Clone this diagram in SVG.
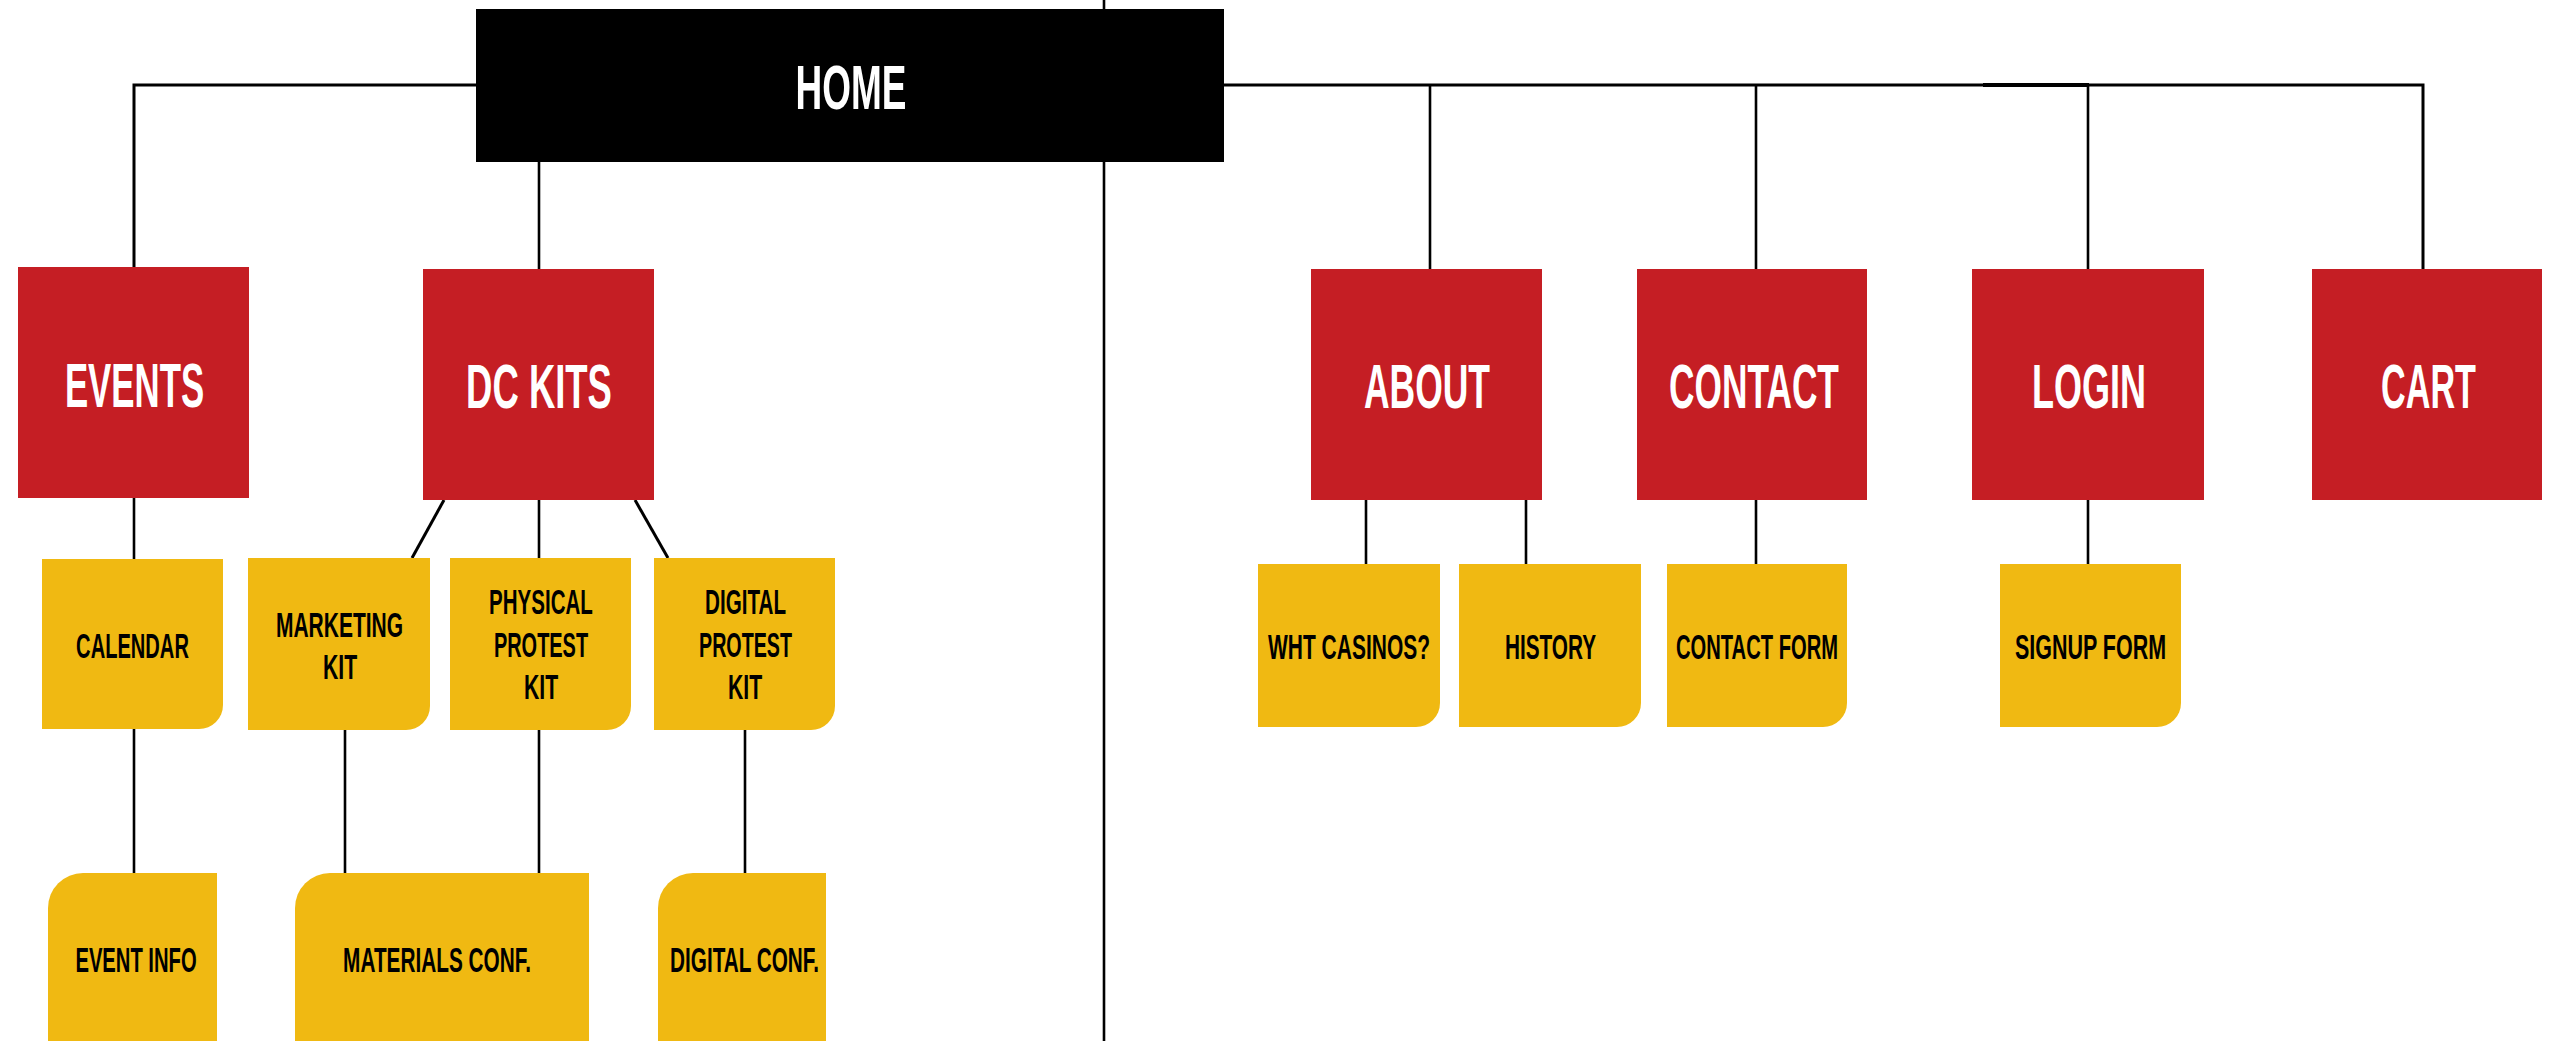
<svg xmlns="http://www.w3.org/2000/svg" width="2557" height="1041" viewBox="0 0 2557 1041">
<style>
.red{fill:#C51E24}
.yel{fill:#F0B912}
.blk{fill:#000}
.big{font-family:"Liberation Sans",Arial,sans-serif;font-weight:bold;font-size:63px;fill:#fff;text-anchor:middle}
.sm{font-family:"Liberation Sans",Arial,sans-serif;font-weight:bold;font-size:35px;fill:#000;text-anchor:middle}
.ln{stroke:#000;stroke-width:2.6;fill:none}
</style>
<rect width="2557" height="1041" fill="#fff"/>
<g id="connectors">
<line class="ln" x1="1104" y1="0" x2="1104" y2="1041"/>
<polyline class="ln" style="stroke-width:3" points="134,267 134,85 476,85"/>
<polyline class="ln" style="stroke-width:3" points="1224,85 2423,85 2423,269"/>
<line class="ln" x1="1983" y1="85" x2="2089" y2="85" style="stroke-width:4"/>
<line class="ln" x1="539" y1="162" x2="539" y2="269"/>
<line class="ln" x1="1430" y1="85" x2="1430" y2="269"/>
<line class="ln" x1="1756" y1="85" x2="1756" y2="269"/>
<line class="ln" x1="2088" y1="85" x2="2088" y2="269"/>
<line class="ln" x1="134" y1="498" x2="134" y2="559"/>
<line class="ln" style="stroke-width:3" x1="444" y1="500" x2="412" y2="558"/>
<line class="ln" x1="539" y1="500" x2="539" y2="558"/>
<line class="ln" style="stroke-width:3" x1="635" y1="500" x2="668" y2="558"/>
<line class="ln" x1="134" y1="729" x2="134" y2="873"/>
<line class="ln" x1="345" y1="730" x2="345" y2="873"/>
<line class="ln" x1="539" y1="730" x2="539" y2="873"/>
<line class="ln" x1="745" y1="730" x2="745" y2="873"/>
<line class="ln" x1="1366" y1="500" x2="1366" y2="564"/>
<line class="ln" x1="1526" y1="500" x2="1526" y2="564"/>
<line class="ln" x1="1756" y1="500" x2="1756" y2="564"/>
<line class="ln" x1="2088" y1="500" x2="2088" y2="564"/>
</g>
<g id="home"><rect class="blk" x="476" y="9" width="748" height="153"/><text class="big" transform="translate(851,109) scale(0.6,1)" textLength="185" lengthAdjust="spacingAndGlyphs">HOME</text></g>
<g id="events"><rect class="red" x="18" y="267" width="231" height="231"/><text class="big" transform="translate(134.5,407) scale(0.6,1)" textLength="232" lengthAdjust="spacingAndGlyphs">EVENTS</text></g>
<g id="dckits"><rect class="red" x="423" y="269" width="231" height="231"/><text class="big" transform="translate(539,408) scale(0.6,1)" textLength="243" lengthAdjust="spacingAndGlyphs">DC KITS</text></g>
<g id="about"><rect class="red" x="1311" y="269" width="231" height="231"/><text class="big" transform="translate(1427,408) scale(0.6,1)" textLength="210" lengthAdjust="spacingAndGlyphs">ABOUT</text></g>
<g id="contact"><rect class="red" x="1637" y="269" width="230" height="231"/><text class="big" transform="translate(1754,408) scale(0.6,1)" textLength="283" lengthAdjust="spacingAndGlyphs">CONTACT</text></g>
<g id="login"><rect class="red" x="1972" y="269" width="232" height="231"/><text class="big" transform="translate(2089,408) scale(0.6,1)" textLength="190" lengthAdjust="spacingAndGlyphs">LOGIN</text></g>
<g id="cart"><rect class="red" x="2312" y="269" width="230" height="231"/><text class="big" transform="translate(2428.5,408) scale(0.6,1)" textLength="158" lengthAdjust="spacingAndGlyphs">CART</text></g>
<g id="calendar"><path class="yel" d="M42 559H223V705A24 24 0 0 1 199 729H42Z"/><text class="sm" transform="translate(132.5,658) scale(0.6,1)" textLength="188" lengthAdjust="spacingAndGlyphs">CALENDAR</text></g>
<g id="marketing-kit"><path class="yel" d="M248 558H430V706A24 24 0 0 1 406 730H248Z"/><text class="sm" transform="translate(339.5,637) scale(0.6,1)" textLength="212" lengthAdjust="spacingAndGlyphs">MARKETING</text><text class="sm" transform="translate(340,679) scale(0.6,1)" textLength="57" lengthAdjust="spacingAndGlyphs">KIT</text></g>
<g id="physical-protest-kit"><path class="yel" d="M450 558H631V706A24 24 0 0 1 607 730H450Z"/><text class="sm" transform="translate(541,614) scale(0.6,1)" textLength="173" lengthAdjust="spacingAndGlyphs">PHYSICAL</text><text class="sm" transform="translate(541,657) scale(0.6,1)" textLength="157" lengthAdjust="spacingAndGlyphs">PROTEST</text><text class="sm" transform="translate(541,699) scale(0.6,1)" textLength="57" lengthAdjust="spacingAndGlyphs">KIT</text></g>
<g id="digital-protest-kit"><path class="yel" d="M654 558H835V706A24 24 0 0 1 811 730H654Z"/><text class="sm" transform="translate(745.5,614) scale(0.6,1)" textLength="135" lengthAdjust="spacingAndGlyphs">DIGITAL</text><text class="sm" transform="translate(745.5,657) scale(0.6,1)" textLength="155" lengthAdjust="spacingAndGlyphs">PROTEST</text><text class="sm" transform="translate(745,699) scale(0.6,1)" textLength="57" lengthAdjust="spacingAndGlyphs">KIT</text></g>
<g id="wht-casinos"><path class="yel" d="M1258 564H1440V703A24 24 0 0 1 1416 727H1258Z"/><text class="sm" transform="translate(1349,659) scale(0.6,1)" textLength="270" lengthAdjust="spacingAndGlyphs">WHT CASINOS?</text></g>
<g id="history"><path class="yel" d="M1459 564H1641V703A24 24 0 0 1 1617 727H1459Z"/><text class="sm" transform="translate(1550.5,659) scale(0.6,1)" textLength="152" lengthAdjust="spacingAndGlyphs">HISTORY</text></g>
<g id="contact-form"><path class="yel" d="M1667 564H1847V703A24 24 0 0 1 1823 727H1667Z"/><text class="sm" transform="translate(1757,659) scale(0.6,1)" textLength="270" lengthAdjust="spacingAndGlyphs">CONTACT FORM</text></g>
<g id="signup-form"><path class="yel" d="M2000 564H2181V703A24 24 0 0 1 2157 727H2000Z"/><text class="sm" transform="translate(2090.5,659) scale(0.6,1)" textLength="252" lengthAdjust="spacingAndGlyphs">SIGNUP FORM</text></g>
<g id="event-info"><path class="yel" d="M48 1045V908A35 35 0 0 1 83 873H217V1045Z"/><text class="sm" transform="translate(136,972) scale(0.6,1)" textLength="202" lengthAdjust="spacingAndGlyphs">EVENT INFO</text></g>
<g id="materials-conf"><path class="yel" d="M295 1045V908A35 35 0 0 1 330 873H589V1045Z"/><text class="sm" transform="translate(437,972) scale(0.6,1)" textLength="313" lengthAdjust="spacingAndGlyphs">MATERIALS CONF.</text></g>
<g id="digital-conf"><path class="yel" d="M658 1045V908A35 35 0 0 1 693 873H826V1045Z"/><text class="sm" transform="translate(744.5,972) scale(0.6,1)" textLength="248" lengthAdjust="spacingAndGlyphs">DIGITAL CONF.</text></g>
</svg>
